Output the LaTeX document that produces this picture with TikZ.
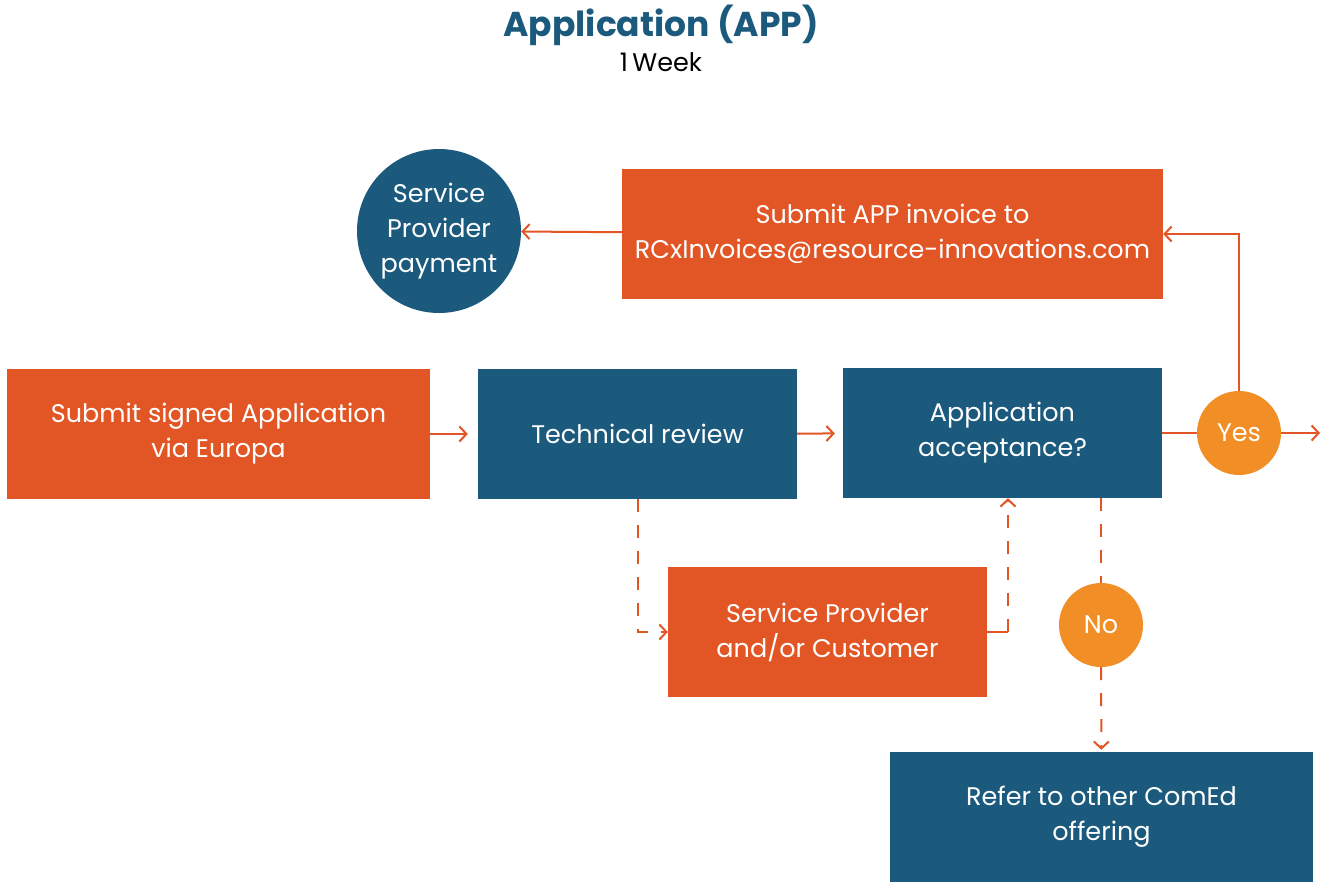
\documentclass[tikz,border=0pt]{standalone}
\usepackage{fontspec}
\setmainfont{Poppins}
\usetikzlibrary{arrows.meta}
\definecolor{appOrange}{HTML}{E25626}
\definecolor{appBlue}{HTML}{1B5A7D}
\definecolor{appYellow}{HTML}{F18E26}
\begin{document}
\begin{tikzpicture}[x=1pt,y=-1pt,>={Straight Barb[length=7pt,width=15pt]},
  font=\fontsize{25.5}{35}\selectfont,
  box/.style={rectangle,minimum height=130pt,inner sep=0pt,text=white,align=center},
  orangebox/.style={box,fill=appOrange},
  bluebox/.style={box,fill=appBlue},
  answer/.style={circle,fill=appYellow,minimum size=84pt,inner sep=0pt,text=white},
  link/.style={draw=appOrange,line width=2pt},
  dashlink/.style={link,dash pattern=on 13pt off 13pt}]
  \useasboundingbox (0,0) rectangle (1323,884);
  % title
  \node[text=appBlue,font=\fontsize{34.5}{40}\selectfont\bfseries] (title) at (661,25) {Application (APP)};
  \node (week) at (661,62) {1\,Week};
  % boxes
  \node[orangebox,minimum width=541pt] (invoice) at (892.5,234) {Submit APP invoice to\\RCxInvoices@resource-innovations.com};
  \node[circle,fill=appBlue,minimum size=164pt,inner sep=0pt,text=white,align=center] (payment) at (439,231) {Service\\Provider\\payment};
  \node[orangebox,minimum width=423pt] (submit) at (218.5,434) {Submit signed Application\\via Europa};
  \node[bluebox,minimum width=319pt] (review) at (637.5,434) {Technical review};
  \node[bluebox,minimum width=319pt] (accept) at (1002.5,433) {Application\\acceptance?};
  \node[answer] (yes) at (1239,433) {Yes};
  \node[orangebox,minimum width=319pt] (customer) at (827.5,632) {Service Provider\\and/or Customer};
  \node[answer] (no) at (1101,625) {No};
  \node[bluebox,minimum width=423pt] (refer) at (1101.5,817) {Refer to other ComEd\\offering};
  \coordinate (out) at (1320,433);
  \coordinate (back) at (1008,632);
  % connectors
  \draw[link,->,shorten >=10pt] (submit) -- (review);
  \draw[link,->,shorten >=8pt] (review) -- (accept);
  \draw[link] (accept) -- (yes);
  \draw[link,->] (yes) -- (out);
  \draw[link,->] (yes) |- (invoice.east);
  \draw[link,->] (invoice) -- (payment);
  \draw[dashlink,->] (review.south) |- (customer.west);
  \draw[link] (customer.east) -- (back);
  \draw[dashlink,->] (back) -- (back |- accept.south);
  \draw[dashlink] (accept.south -| no) -- (no);
  \draw[dashlink,->,shorten >=2pt] (no) -- (refer);
\end{tikzpicture}
\end{document}
